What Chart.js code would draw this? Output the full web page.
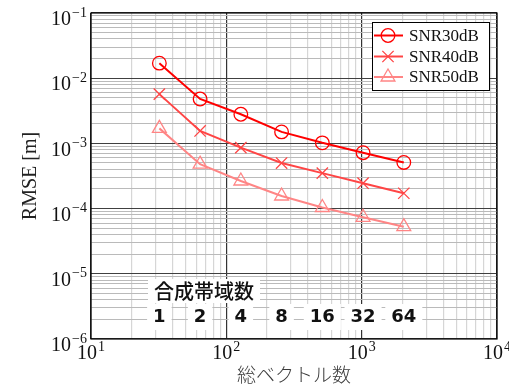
<!DOCTYPE html>
<html>
<head>
<meta charset="utf-8">
<script src="https://cdn.jsdelivr.net/npm/chart.js@4.4.1/dist/chart.umd.min.js"></script>
<style>
html,body{margin:0;padding:0;background:#fff;}
#wrap{width:509px;height:387px;position:relative;}
</style>
</head>
<body>
<div id="wrap"><canvas id="c" width="509" height="387"></canvas></div>
<script>
// ---- data ----
const totalVectors = [32, 64, 128, 256, 512, 1024, 2048];
const snr30 = [0.017, 0.0048, 0.0028, 0.0015, 0.00102, 0.00072, 0.00051];
const snr40 = [0.0057, 0.00155, 0.00086, 0.0005, 0.00035, 0.000245, 0.000172];
const snr50 = [0.0017, 0.00048, 0.000265, 0.000156, 0.000104, 0.0000736, 0.0000528];
const seriesNames = ['SNR30dB', 'SNR40dB', 'SNR50dB'];
const bandCounts = ['1', '2', '4', '8', '16', '32', '64'];
const bandTitle = '合成帯域数';
const xTickValues = [10, 100, 1000, 10000];
const xTickExps = ['1', '2', '3', '4'];
const yTickValues = [1e-6, 1e-5, 1e-4, 1e-3, 1e-2, 1e-1];
const yTickExps = ['−6', '−5', '−4', '−3', '−2', '−1'];
const xTitle = '総ベクトル数';
const yTitle = 'RMSE [m]';

const colors = ['#ff0000', '#ff4545', '#ff8585'];
const styles = ['circle', 'crossRot', 'triangle'];
const radii = [6.8, 8, 8];
const seriesData = [snr30, snr40, snr50];

const SERIF = '"Liberation Serif", "DejaVu Serif", serif';
const CJK = '"Noto Sans CJK JP", sans-serif';

function logTicks(min, max) {
  const out = [];
  for (let e = Math.round(Math.log10(min)); e < Math.round(Math.log10(max)); e++) {
    for (let m = 1; m <= 9; m++) out.push({ value: m * Math.pow(10, e) });
  }
  out.push({ value: max });
  return out;
}
function isMajor(v) {
  const l = Math.log10(v);
  return Math.abs(l - Math.round(l)) < 1e-9;
}

function drawPow(ctx, exp, x, y, align) {
  ctx.save();
  ctx.fillStyle = '#111';
  ctx.textBaseline = 'middle';
  ctx.font = '20px ' + SERIF;
  const bw = ctx.measureText('10').width;
  ctx.font = '14px ' + SERIF;
  const ew = ctx.measureText(exp).width;
  const total = bw + ew + 1;
  let left = align === 'right' ? x - total : x - total / 2;
  ctx.font = '20px ' + SERIF;
  ctx.textAlign = 'left';
  ctx.fillText('10', left, y + 3);
  ctx.font = '14px ' + SERIF;
  ctx.fillText(exp, left + bw + 1, y - 4);
  ctx.restore();
}

const decor = {
  id: 'decor',
  afterDraw(chart) {
    const ctx = chart.ctx;
    const a = chart.chartArea;
    const xs = chart.scales.x, ys = chart.scales.y;
    // frame
    ctx.save();
    ctx.strokeStyle = '#000';
    ctx.lineWidth = 1.2;
    ctx.strokeRect(a.left, a.top, a.right - a.left, a.bottom - a.top);
    ctx.restore();
    // tick labels
    yTickValues.forEach((v, i) => drawPow(ctx, yTickExps[i], a.left - 4, ys.getPixelForValue(v) + 4, 'right'));
    xTickValues.forEach((v, i) => drawPow(ctx, xTickExps[i], xs.getPixelForValue(v), a.bottom + 12, 'center'));
    // axis titles
    ctx.save();
    ctx.fillStyle = '#222';
    ctx.font = '20px ' + SERIF;
    ctx.textAlign = 'center';
    ctx.textBaseline = 'middle';
    ctx.translate(31, (a.top + a.bottom) / 2);
    ctx.rotate(-Math.PI / 2);
    ctx.fillText(yTitle, 0, 0);
    ctx.restore();
    ctx.save();
    ctx.fillStyle = '#3a3a3a';
    ctx.font = '300 19px ' + CJK;
    ctx.textAlign = 'center';
    ctx.textBaseline = 'middle';
    ctx.fillText(xTitle, (a.left + a.right) / 2, 375);
    ctx.restore();
    // band annotation
    ctx.save();
    ctx.font = '500 20px ' + CJK;
    ctx.textAlign = 'center';
    ctx.textBaseline = 'middle';
    const tw = ctx.measureText(bandTitle).width;
    const cx = 204, cy = 291;
    ctx.fillStyle = '#fff';
    ctx.fillRect(cx - tw / 2 - 6, cy - 12, tw + 12, 24);
    ctx.fillStyle = '#111';
    ctx.fillText(bandTitle, cx, cy);
    ctx.font = 'bold 18px "DejaVu Sans", sans-serif';
    bandCounts.forEach((s, i) => {
      const px = xs.getPixelForValue(totalVectors[i]);
      const w = ctx.measureText(s).width;
      ctx.fillStyle = '#fff';
      ctx.fillRect(px - w / 2 - 6, 304, w + 12, 26);
      ctx.fillStyle = '#111';
      ctx.fillText(s, px, 317);
    });
    ctx.restore();
    // legend
    ctx.save();
    const lx = 372, ly = 22, lw = 117, lh = 68;
    ctx.fillStyle = '#fff';
    ctx.fillRect(lx, ly, lw, lh);
    ctx.strokeStyle = '#000';
    ctx.lineWidth = 1;
    ctx.strokeRect(lx + 0.5, ly + 0.5, lw, lh);
    const rows = [35.5, 56.5, 77];
    seriesNames.forEach((name, i) => {
      const y = rows[i];
      ctx.strokeStyle = colors[i];
      ctx.lineWidth = 2;
      ctx.beginPath();
      ctx.moveTo(374, y);
      ctx.lineTo(403, y);
      ctx.stroke();
      ctx.lineWidth = 1.3;
      ctx.fillStyle = 'rgba(0,0,0,0)';
      Chart.helpers.drawPoint(ctx, { pointStyle: styles[i], radius: radii[i], borderWidth: 1.3, rotation: 0 }, 388, y);
      ctx.fillStyle = '#111';
      ctx.font = '17px ' + SERIF;
      ctx.textAlign = 'left';
      ctx.textBaseline = 'middle';
      ctx.fillText(name, 409, y + 1);
    });
    ctx.restore();
  }
};

const datasets = seriesData.map((vals, i) => ({
  label: seriesNames[i],
  data: totalVectors.map((x, j) => ({ x: x, y: vals[j] })),
  showLine: true,
  borderColor: colors[i],
  borderWidth: 2,
  pointStyle: styles[i],
  pointRadius: radii[i],
  pointBorderWidth: 1.3,
  pointBorderColor: colors[i],
  pointBackgroundColor: 'rgba(0,0,0,0)',
  tension: 0
}));

new Chart(document.getElementById('c'), {
  type: 'scatter',
  data: { datasets },
  options: {
    responsive: false,
    animation: false,
    events: [],
    layout: { padding: { left: 91, right: 12, top: 13, bottom: 48 } },
    plugins: { legend: { display: false }, tooltip: { enabled: false } },
    scales: {
      x: {
        type: 'logarithmic', min: 10, max: 10000,
        afterBuildTicks: s => { s.ticks = logTicks(10, 10000); },
        ticks: { display: false },
        border: { display: false },
        grid: { drawTicks: false, lineWidth: 1.2, color: c => isMajor(c.tick.value) ? '#333333' : '#d6d6d6' }
      },
      y: {
        type: 'logarithmic', min: 1e-6, max: 1e-1,
        afterBuildTicks: s => { s.ticks = logTicks(1e-6, 1e-1); },
        ticks: { display: false },
        border: { display: false },
        grid: { drawTicks: false, lineWidth: 1.1, color: c => isMajor(c.tick.value) ? '#404040' : '#bababa' }
      }
    }
  },
  plugins: [decor]
});
</script>
</body>
</html>
